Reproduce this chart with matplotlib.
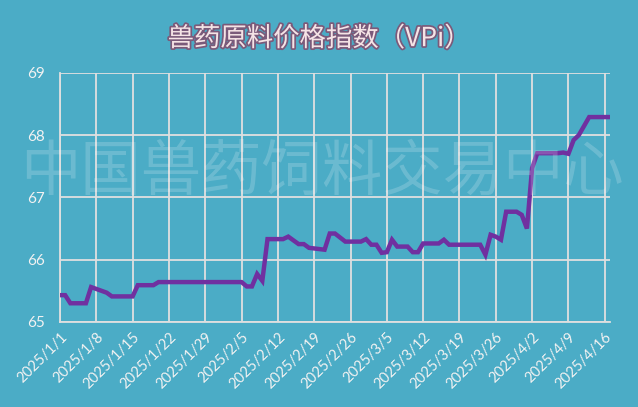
import pandas as pd
import matplotlib
matplotlib.use('Agg')
import matplotlib.pyplot as plt
import matplotlib.patheffects as pe

plt.rcParams['font.family'] = ['Lato', 'Noto Sans CJK SC', 'DejaVu Sans']

# 数据：日期与指数
dates = ['2025-01-01', '2025-01-02', '2025-01-03', '2025-01-06', '2025-01-07',
         '2025-01-10', '2025-01-11', '2025-01-15', '2025-01-16', '2025-01-19',
         '2025-01-20', '2025-02-05', '2025-02-06', '2025-02-07', '2025-02-08',
         '2025-02-09', '2025-02-10', '2025-02-13', '2025-02-14', '2025-02-16',
         '2025-02-17', '2025-02-18', '2025-02-20', '2025-02-21', '2025-02-22',
         '2025-02-23', '2025-02-25', '2025-02-28', '2025-03-01', '2025-03-02',
         '2025-03-03', '2025-03-04', '2025-03-05', '2025-03-06', '2025-03-07',
         '2025-03-09', '2025-03-10', '2025-03-11', '2025-03-12', '2025-03-15',
         '2025-03-16', '2025-03-17', '2025-03-23', '2025-03-24', '2025-03-25',
         '2025-03-26', '2025-03-27', '2025-03-28', '2025-03-30', '2025-03-31',
         '2025-04-01', '2025-04-02', '2025-04-03', '2025-04-07', '2025-04-08',
         '2025-04-09', '2025-04-10', '2025-04-11', '2025-04-13', '2025-04-17']
vpi = [65.43, 65.43, 65.30, 65.30, 65.56,
       65.47, 65.41, 65.41, 65.59, 65.59,
       65.64, 65.64, 65.57, 65.57, 65.77,
       65.66, 66.33, 66.33, 66.37, 66.25,
       66.25, 66.19, 66.17, 66.16, 66.42,
       66.42, 66.29, 66.29, 66.33, 66.24,
       66.24, 66.11, 66.12, 66.32, 66.21,
       66.21, 66.12, 66.12, 66.26, 66.26,
       66.32, 66.24, 66.24, 66.08, 66.40,
       66.37, 66.32, 66.77, 66.77, 66.72,
       66.50, 67.47, 67.71, 67.71, 67.72,
       67.70, 67.92, 68.00, 68.29, 68.29]
y_ticks = [65, 66, 67, 68, 69]

bg = '#4BACC6'
x = pd.to_datetime(dates)

fig = plt.figure(figsize=(6.38, 4.07), dpi=100, facecolor=bg)
ax = fig.add_axes([0.094, 0.209, 0.862, 0.612])
ax.set_facecolor(bg)

# 水印
fig.text(0.505, 0.575, '中国兽药饲料交易中心', family=['Noto Sans CJK SC'],
         fontsize=43.5, fontweight='light', color='white', alpha=0.18,
         ha='center', va='center')

ax.plot(x, vpi, color='#7030A0', linewidth=3.2, solid_joinstyle='miter', zorder=3)

ax.set_xlim(pd.Timestamp('2025-01-01'), pd.Timestamp('2025-04-17'))
ax.set_ylim(65, 69)
ax.set_yticks(y_ticks)
ticks = pd.date_range('2025-01-01', '2025-04-16', freq='7D')
ax.set_xticks(ticks)
ax.set_xticklabels([f'{d.year}/{d.month}/{d.day}' for d in ticks],
                   rotation=45, ha='right', va='top', rotation_mode='anchor')

ax.grid(True, color='#E0E0E0', linewidth=1.3, zorder=1)
for s in ['top', 'right']:
    ax.spines[s].set_visible(False)
for s in ['left', 'bottom']:
    ax.spines[s].set_color('#E0E0E0')
    ax.spines[s].set_linewidth(1.3)
ax.tick_params(length=0, colors='#F2F2F2', labelsize=10.5)
ax.tick_params(axis='y', pad=11, labelsize=11)
ax.tick_params(axis='x', pad=6)

# 标题
fig.text(0.5, 0.905, '兽药原料价格指数（VPi）', family=['Noto Sans CJK SC'],
         fontsize=19, color='#F5E4E6', ha='center', va='center',
         path_effects=[pe.withStroke(linewidth=2.5, foreground='#7A5A7A')])

fig.savefig('out.png', dpi=100, facecolor=bg)
